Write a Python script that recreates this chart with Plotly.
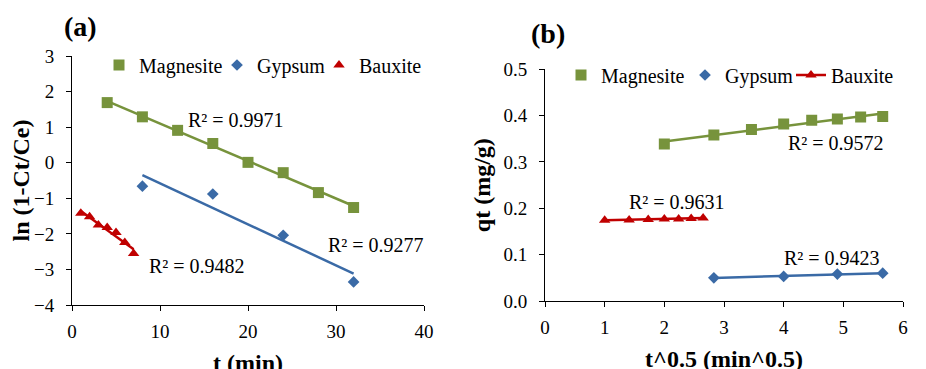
import numpy as np
import plotly.graph_objects as go

# ---------------- data: panel (a) ----------------
t_mag = [4, 8, 12, 16, 20, 24, 28, 32]
ln_mag = [1.69, 1.29, 0.91, 0.54, 0.01, -0.28, -0.84, -1.26]
t_gyp = [8, 16, 24, 32]
ln_gyp = [-0.66, -0.88, -2.04, -3.35]
t_bau = [1, 2, 3, 4, 5, 6, 7]
ln_bau = [-1.42, -1.52, -1.75, -1.82, -1.96, -2.24, -2.55]

# ---------------- data: panel (b) ----------------
sq_mag = [2.0, 2.83, 3.46, 4.0, 4.47, 4.90, 5.29, 5.66]
qt_mag = [0.339, 0.358, 0.370, 0.382, 0.390, 0.393, 0.397, 0.398]
sq_gyp = [2.83, 4.0, 4.90, 5.66]
qt_gyp = [0.050, 0.053, 0.058, 0.060]
sq_bau = [1.0, 1.41, 1.73, 2.0, 2.24, 2.45, 2.65]
qt_bau = [0.174, 0.175, 0.176, 0.177, 0.177, 0.178, 0.179]

r2_a = ["R² = 0.9971", "R² = 0.9277", "R² = 0.9482"]
r2_b = ["R² = 0.9572", "R² = 0.9631", "R² = 0.9423"]
names = ["Magnesite", "Gypsum", "Bauxite"]

GREEN = "#77933C"
BLUE = "#3A6AA6"
RED = "#C00000"
FONT = "Liberation Serif, Times New Roman, serif"

W, H = 926, 369
OFF = 8  # page body margin offset


def px_x(p):
    return (p - OFF) / W


def px_y(p):
    return 1 - (p - OFF) / H


def fit(x, y):
    x = np.asarray(x, float)
    y = np.asarray(y, float)
    k, b = np.polyfit(x, y, 1)
    xs = np.array([x.min(), x.max()])
    return xs, k * xs + b


fig = go.Figure()

# panel (a) markers
fig.add_trace(go.Scatter(x=t_mag, y=ln_mag, mode="markers", name=names[0],
                         marker=dict(symbol="square", size=11, color=GREEN),
                         xaxis="x", yaxis="y", legend="legend", legendwidth=73))
fig.add_trace(go.Scatter(x=t_gyp, y=ln_gyp, mode="markers", name=names[1],
                         marker=dict(symbol="diamond", size=9, color=BLUE),
                         xaxis="x", yaxis="y", legend="legend", legendwidth=57))
fig.add_trace(go.Scatter(x=t_bau, y=ln_bau, mode="markers", name=names[2],
                         marker=dict(symbol="triangle-up", size=10, color=RED),
                         xaxis="x", yaxis="y", legend="legend"))
for (xx, yy, c) in [(t_mag, ln_mag, GREEN), (t_gyp, ln_gyp, BLUE), (t_bau, ln_bau, RED)]:
    fx, fy = fit(xx, yy)
    fig.add_trace(go.Scatter(x=fx, y=fy, mode="lines", line=dict(color=c, width=2.5),
                             showlegend=False, hoverinfo="skip", xaxis="x", yaxis="y"))

# panel (b)
for (xx, yy, c) in [(sq_mag, qt_mag, GREEN), (sq_gyp, qt_gyp, BLUE)]:
    fx, fy = fit(xx, yy)
    fig.add_trace(go.Scatter(x=fx, y=fy, mode="lines", line=dict(color=c, width=2.5),
                             showlegend=False, hoverinfo="skip", xaxis="x2", yaxis="y2"))
fig.add_trace(go.Scatter(x=sq_mag, y=qt_mag, mode="markers", name=names[0],
                         marker=dict(symbol="square", size=11, color=GREEN),
                         xaxis="x2", yaxis="y2", legend="legend2", legendwidth=79))
fig.add_trace(go.Scatter(x=sq_gyp, y=qt_gyp, mode="markers", name=names[1],
                         marker=dict(symbol="diamond", size=9, color=BLUE),
                         xaxis="x2", yaxis="y2", legend="legend2", legendwidth=61))
fig.add_trace(go.Scatter(x=sq_bau, y=qt_bau, mode="lines+markers", name=names[2],
                         line=dict(color=RED, width=2.5),
                         marker=dict(symbol="triangle-up", size=10, color=RED),
                         xaxis="x2", yaxis="y2", legend="legend2"))

tickfont = dict(family=FONT, size=19, color="black")
titlefont = dict(family=FONT, size=24, color="black", weight="bold")
common = dict(showline=True, linecolor="black", linewidth=1, ticks="outside",
              ticklen=5, tickcolor="black", tickwidth=1, showgrid=False,
              zeroline=False, tickfont=tickfont, automargin=False)

fig.update_layout(
    width=W, height=H,
    margin=dict(l=0, r=0, t=0, b=0),
    paper_bgcolor="white", plot_bgcolor="white",
    font=dict(family=FONT, color="black"),
    xaxis=dict(domain=[px_x(72), px_x(424)], range=[0, 40], dtick=10,
               anchor="y", ticklabelstandoff=4,
               title=dict(text="t (min)", font=titlefont, standoff=13), **common),
    yaxis=dict(domain=[px_y(305), px_y(56)], range=[-4, 3], dtick=1,
               anchor="x", ticklabelstandoff=8,
               title=dict(text="ln (1-Ct/Ce)", font=titlefont, standoff=6), **common),
    xaxis2=dict(domain=[px_x(545), px_x(903)], range=[0, 6], dtick=1,
                anchor="y2", ticklabelstandoff=4,
                title=dict(text="t^0.5 (min^0.5)", font=titlefont, standoff=13), **common),
    yaxis2=dict(domain=[px_y(301), px_y(69.3)], range=[0, 0.5], dtick=0.1,
                tickformat=".1f", anchor="x2", ticklabelstandoff=8,
                title=dict(text="qt (mg/g)", font=titlefont, standoff=6), **common),
    legend=dict(orientation="h", x=px_x(99), xanchor="left", y=px_y(65), yanchor="middle",
                font=dict(family=FONT, size=20, color="black"), bgcolor="rgba(0,0,0,0)",
                itemwidth=30, tracegroupgap=0),
    legend2=dict(orientation="h", x=px_x(561), xanchor="left", y=px_y(75), yanchor="middle",
                 font=dict(family=FONT, size=20, color="black"), bgcolor="rgba(0,0,0,0)",
                 itemwidth=30, tracegroupgap=0),
    showlegend=True,
)

ann = [
    ("x", "y", 18.6, 1.2, r2_a[0]),
    ("x", "y", 34.6, -2.31, r2_a[1]),
    ("x", "y", 14.2, -2.9, r2_a[2]),
    ("x2", "y2", 4.88, 0.342, r2_b[0]),
    ("x2", "y2", 2.21, 0.214, r2_b[1]),
    ("x2", "y2", 4.81, 0.092, r2_b[2]),
]
for xr, yr, x, y, t in ann:
    fig.add_annotation(xref=xr, yref=yr, x=x, y=y, text=t, showarrow=False,
                       xanchor="center", yanchor="middle",
                       font=dict(family=FONT, size=20, color="black"))

fig.add_annotation(xref="paper", yref="paper", x=px_x(80), y=px_y(26), text="<b>(a)</b>",
                   xanchor="center", yanchor="middle",
                   showarrow=False, font=dict(family=FONT, size=28, color="black"))
fig.add_annotation(xref="paper", yref="paper", x=px_x(548), y=px_y(34), text="<b>(b)</b>",
                   xanchor="center", yanchor="middle",
                   showarrow=False, font=dict(family=FONT, size=28, color="black"))

fig.write_html("out.html")
